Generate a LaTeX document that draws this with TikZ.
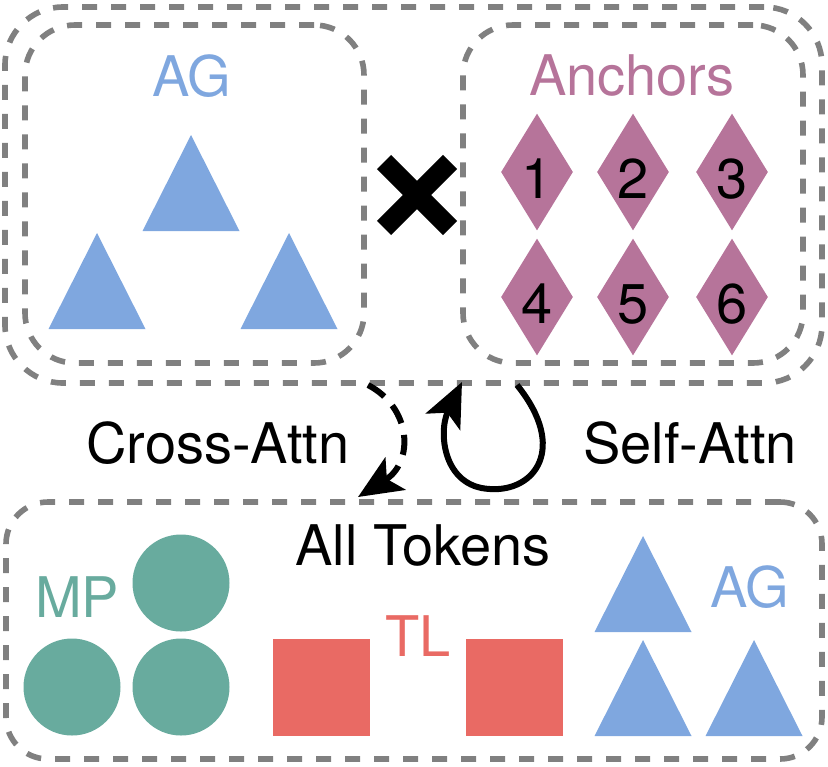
\documentclass[tikz,border=0pt]{standalone}
\usepackage{fontspec}
\setmainfont{TeX Gyre Heros}
\usetikzlibrary{shapes.geometric, arrows.meta, positioning}
\definecolor{agblue}{RGB}{127, 167, 223}
\definecolor{anchorpink}{RGB}{182, 116, 154}
\definecolor{mpgreen}{RGB}{104, 171, 158}
\definecolor{tlred}{RGB}{233, 106, 100}
\definecolor{framegray}{RGB}{128, 128, 128}

\begin{document}
\begin{tikzpicture}[x=0.5pt, y=-0.5pt, font=\fontsize{28}{34}\selectfont]
    \tikzstyle{dashbox} = [rectangle, draw=framegray, line width=2.8pt,
                           dash pattern=on 7.5pt off 7pt, inner sep=0pt]
    \tikzstyle{gem}  = [diamond, fill=anchorpink, inner sep=0pt, shape aspect=0.6,
                        minimum width=36pt, minimum height=58.5pt,
                        text height=26pt, text depth=0pt]
    \tikzstyle{ball} = [circle, fill=mpgreen, minimum size=48.5pt, inner sep=0pt]
    \tikzstyle{tile} = [rectangle, fill=tlred, minimum size=48.5pt, inner sep=0pt]
    \tikzstyle{arr}  = [-{Stealth[length=22pt, width=19pt, inset=5pt]}, line width=3pt]

    \useasboundingbox (0,0) rectangle (828,766);

    %% ── Top block: AG x Anchors ────────────────────────────────────────────
    \node[dashbox, rounded corners=29pt, minimum width=408.5pt, minimum height=188pt]
      at (413.5,195) (pair) {};
    \node[dashbox, rounded corners=25pt, minimum width=169.5pt, minimum height=169pt]
      at (194.5,194) (agbox) {};
    \node[dashbox, rounded corners=25pt, minimum width=170pt, minimum height=169pt]
      at (633,194) (anchorbox) {};

    \node[text=agblue]     at (192,76) (aglbl)  {AG};
    \node[text=anchorpink] at (632,76) (anclbl) {Anchors};

    \foreach \x/\y in {191/135, 97/233, 289/233}
        \fill[agblue] (\x,\y) -- ++(48.5,96) -- ++(-97,0) -- cycle;

    %% cross
    \draw[line width=10pt] (384,162) -- (450,228) (384,228) -- (450,162);

    \node[gem] at (537,172) (a1) {1};
    \node[gem] at (633,172) (a2) {2};
    \node[gem] at (732,172) (a3) {3};
    \node[gem] at (537,297) (a4) {4};
    \node[gem] at (633,297) (a5) {5};
    \node[gem] at (732,297) (a6) {6};

    %% ── Attention arrows ───────────────────────────────────────────────────
    \coordinate (ca-from) at (368,385);
    \coordinate (ca-to)   at (358,497);
    \coordinate (sa-from) at (517,385);
    \coordinate (sa-to)   at (462,382);

    \draw[arr, dash pattern=on 10pt off 6pt]
      (ca-from) .. controls (412,408) and (414,462) .. (ca-to);
    \draw[arr] (sa-from) .. controls (568,448) and (535,492) .. (490,489)
                         .. controls (443,487) and (438,432) .. (sa-to);

    \node at (218,443) (crosslbl) {Cross-Attn};
    \node at (690,443) (selflbl)  {Self-Attn};

    %% ── Bottom block: all tokens ───────────────────────────────────────────
    \node[dashbox, rounded corners=21pt, minimum width=408pt, minimum height=128.5pt]
      at (414,630.5) (tokens) {};
    \node at (423,545) (tokenlbl) {All Tokens};

    \node[text=mpgreen] at (77,597) (mplbl) {MP};
    \node[ball] at (181,583) (mp1) {};
    \node[ball] at (72,687)  (mp2) {};
    \node[ball] at (181,687) (mp3) {};

    \node[text=tlred] at (418,636) (tllbl) {TL};
    \node[tile] at (321.5,687.5) (tl1) {};
    \node[tile] at (514,687.5)   (tl2) {};

    \foreach \x/\y in {643/536, 643/640, 754/640}
        \fill[agblue] (\x,\y) -- ++(48.5,96) -- ++(-97,0) -- cycle;
    \node[text=agblue] at (750,587) (ag2lbl) {AG};
\end{tikzpicture}
\end{document}
